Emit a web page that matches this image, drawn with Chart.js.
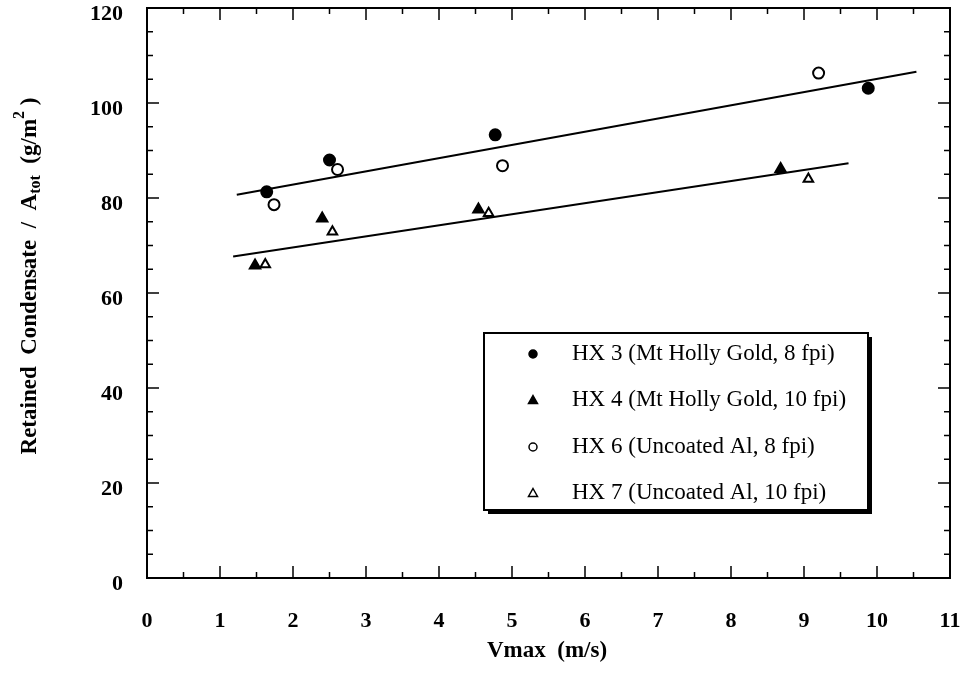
<!DOCTYPE html>
<html>
<head>
<meta charset="utf-8">
<script src="https://cdn.jsdelivr.net/npm/chart.js@4.4.0/dist/chart.umd.min.js"></script>
<style>
  html, body { margin: 0; padding: 0; background: #fff; }
  #wrap { width: 966px; height: 674px; position: relative; }
</style>
</head>
<body>
<div id="wrap"><canvas id="grafik"></canvas></div>
<script>
// data
const hx3X = [1.64, 2.50, 4.77, 9.88];
const hx3Y = [81.3, 88.0, 93.3, 103.1];
const hx4X = [1.48, 2.40, 4.54, 8.68];
const hx4Y = [65.8, 75.7, 77.6, 86.1];
const hx6X = [1.74, 2.61, 4.87, 9.20];
const hx6Y = [78.6, 86.0, 86.8, 106.3];
const hx7X = [1.62, 2.54, 4.68, 9.06];
const hx7Y = [66.0, 72.9, 76.8, 84.0];

// garis regresi (ujung-ujung)
const fitAtasX = [1.23, 10.54];
const fitAtasY = [80.7, 106.6];
const fitBawahX = [1.18, 9.61];
const fitBawahY = [67.7, 87.3];

const xTicks = [0, 1, 2, 3, 4, 5, 6, 7, 8, 9, 10, 11];
const yTicks = [0, 20, 40, 60, 80, 100, 120];

const seriesLabels = [
  "HX 3 (Mt Holly Gold, 8 fpi)",
  "HX 4 (Mt Holly Gold, 10 fpi)",
  "HX 6 (Uncoated Al, 8 fpi)",
  "HX 7 (Uncoated Al, 10 fpi)",
];

const SERIF = '"Liberation Serif", "Times New Roman", serif';

function gabung(xs, ys) {
  return xs.map((x, i) => ({ x: x, y: ys[i] }));
}

function titik(label, xs, ys, style, isi, r) {
  return {
    label: label,
    data: gabung(xs, ys),
    showLine: false,
    pointStyle: style,
    pointRadius: r,
    pointHoverRadius: r,
    pointBorderWidth: 2,
    pointBorderColor: "#000",
    pointBackgroundColor: isi ? "#000" : "#fff",
  };
}

function garis(xs, ys) {
  return {
    label: "",
    data: gabung(xs, ys),
    showLine: true,
    borderColor: "#000",
    borderWidth: 2,
    pointRadius: 0,
    fill: false,
  };
}

// buang padding label supaya area grafik pas
function nolPadding(s) {
  s.paddingLeft = 0;
  s.paddingRight = 0;
  s.paddingTop = 0;
  s.paddingBottom = 0;
}

// kotak, tick ke dalam, judul sumbu, legenda
const hiasan = {
  id: "hiasan",
  afterDraw(chart) {
    const ctx = chart.ctx;
    const a = chart.chartArea;
    const sx = chart.scales.x;
    const sy = chart.scales.y;
    ctx.save();
    ctx.strokeStyle = "#000";
    ctx.lineWidth = 2;
    ctx.strokeRect(a.left, a.top, a.right - a.left, a.bottom - a.top);

    ctx.lineWidth = 1.5;
    ctx.beginPath();
    for (let v = 0; v <= 11; v += 0.5) {
      const px = sx.getPixelForValue(v);
      const len = Number.isInteger(v) ? 12 : 6;
      ctx.moveTo(px, a.bottom); ctx.lineTo(px, a.bottom - len);
      ctx.moveTo(px, a.top); ctx.lineTo(px, a.top + len);
    }
    for (let v = 0; v <= 120; v += 5) {
      const py = sy.getPixelForValue(v);
      const len = v % 20 === 0 ? 12 : 6;
      ctx.moveTo(a.left, py); ctx.lineTo(a.left + len, py);
      ctx.moveTo(a.right, py); ctx.lineTo(a.right - len, py);
    }
    ctx.stroke();

    // judul sumbu x
    ctx.fillStyle = "#000";
    ctx.font = "bold 23px " + SERIF;
    ctx.textAlign = "center";
    ctx.textBaseline = "middle";
    ctx.fillText("Vmax  (m/s)", 547, 651);

    // judul sumbu y dengan subskrip dan superskrip
    const bagian = [
      { t: "Retained  Condensate  /  A", f: "bold 23px " + SERIF, dy: 0 },
      { t: "tot", f: "bold 16px " + SERIF, dy: 6 },
      { t: "  (g/m", f: "bold 23px " + SERIF, dy: 0 },
      { t: "2", f: "bold 16px " + SERIF, dy: -10 },
      { t: " )", f: "bold 23px " + SERIF, dy: 0 },
    ];
    let total = 0;
    bagian.forEach(b => { ctx.font = b.f; b.w = ctx.measureText(b.t).width; total += b.w; });
    ctx.translate(30, 276);
    ctx.rotate(-Math.PI / 2);
    ctx.textAlign = "left";
    let cx = -total / 2;
    bagian.forEach(b => { ctx.font = b.f; ctx.fillText(b.t, cx, b.dy); cx += b.w; });
    ctx.setTransform(1, 0, 0, 1, 0, 0);

    // legenda
    const bx = 484, by = 333, bw = 384, bh = 177;
    ctx.fillStyle = "#000";
    ctx.fillRect(bx + 4, by + 4, bw, bh);
    ctx.fillStyle = "#fff";
    ctx.fillRect(bx, by, bw, bh);
    ctx.lineWidth = 2;
    ctx.strokeRect(bx, by, bw, bh);

    const baris = [354, 400, 447, 493];
    let i = 0;
    chart.data.datasets.forEach(ds => {
      if (!ds.label) return;
      const y = baris[i++];
      const mx = 533;
      ctx.lineWidth = 1.5;
      ctx.strokeStyle = "#000";
      ctx.fillStyle = ds.pointBackgroundColor;
      ctx.beginPath();
      if (ds.pointStyle === "circle") {
        ctx.arc(mx, y, 4, 0, Math.PI * 2);
      } else {
        ctx.moveTo(mx, y - 4.5);
        ctx.lineTo(mx + 4.5, y + 3.5);
        ctx.lineTo(mx - 4.5, y + 3.5);
        ctx.closePath();
      }
      ctx.fill();
      ctx.stroke();
      ctx.fillStyle = "#000";
      ctx.font = "23px " + SERIF;
      ctx.textAlign = "left";
      ctx.textBaseline = "middle";
      ctx.fillText(ds.label, 572, y);
    });
    ctx.restore();
  },
};

new Chart(document.getElementById("grafik"), {
  type: "scatter",
  data: {
    datasets: [
      garis(fitAtasX, fitAtasY),
      garis(fitBawahX, fitBawahY),
      titik(seriesLabels[0], hx3X, hx3Y, "circle", true, 5.5),
      titik(seriesLabels[1], hx4X, hx4Y, "triangle", true, 6),
      titik(seriesLabels[2], hx6X, hx6Y, "circle", false, 5.5),
      titik(seriesLabels[3], hx7X, hx7Y, "triangle", false, 5.5),
    ],
  },
  options: {
    responsive: true,
    maintainAspectRatio: false,
    animation: false,
    layout: { padding: { left: 0, top: 8, right: 16, bottom: 0 } },
    plugins: {
      legend: { display: false },
      tooltip: { enabled: false },
    },
    scales: {
      x: {
        type: "linear",
        min: 0,
        max: 11,
        afterBuildTicks: s => { s.ticks = xTicks.map(v => ({ value: v })); },
        afterFit: s => { s.height = 96; nolPadding(s); },
        grid: { display: false, drawTicks: false },
        border: { display: false },
        ticks: {
          color: "#000",
          padding: 30,
          maxRotation: 0,
          font: { family: SERIF, size: 22, weight: "bold" },
        },
      },
      y: {
        type: "linear",
        min: 0,
        max: 120,
        afterBuildTicks: s => { s.ticks = yTicks.map(v => ({ value: v })); },
        afterFit: s => { s.width = 147; nolPadding(s); },
        grid: { display: false, drawTicks: false },
        border: { display: false },
        ticks: {
          color: "#000",
          padding: 24,
          labelOffset: 6,
          font: { family: SERIF, size: 22, weight: "bold" },
        },
      },
    },
  },
  plugins: [hiasan],
});
</script>
</body>
</html>
